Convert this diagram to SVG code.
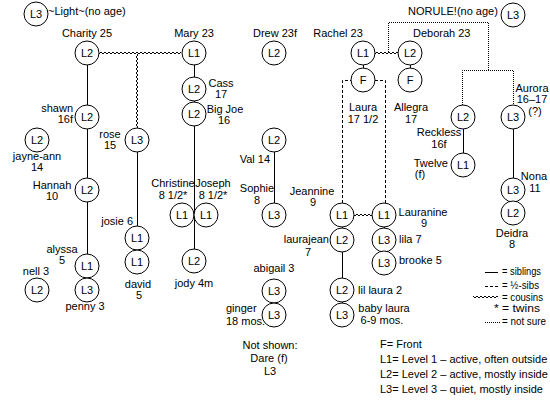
<svg xmlns="http://www.w3.org/2000/svg" width="550" height="400" viewBox="0 0 550 400">
<style>
text{font-family:"Liberation Sans",Arial,sans-serif;font-size:11px;fill:#000}
.m{text-anchor:middle}
.e{text-anchor:end}
.n circle{fill:#fff;stroke:#000;stroke-width:1}
.s{stroke:#000;stroke-width:1;fill:none}
.d{stroke:#000;stroke-width:1;fill:none;stroke-dasharray:3,2}
.o{stroke:#000;stroke-width:1;fill:none;stroke-dasharray:1,1}
</style>
<defs>
<pattern id="wh" x="0" y="0" width="4" height="2" patternUnits="userSpaceOnUse"><rect width="2" height="1" fill="#000"/><rect x="2" y="1" width="2" height="1" fill="#000"/></pattern>
<pattern id="wv" x="0" y="0" width="2" height="4" patternUnits="userSpaceOnUse"><rect width="1" height="2" fill="#000"/><rect x="1" y="2" width="1" height="2" fill="#000"/></pattern>
</defs>
<rect width="550" height="400" fill="#fff"/>
<g id="connectors">
<line class="s" x1="87.5" y1="53" x2="87.5" y2="290"/>
<line class="s" x1="137.5" y1="140" x2="137.5" y2="262"/>
<line class="s" x1="194.5" y1="53" x2="194.5" y2="261"/>
<line class="s" x1="274.5" y1="140" x2="274.5" y2="215"/>
<line class="s" x1="274.5" y1="291" x2="274.5" y2="315"/>
<line class="s" x1="363.5" y1="53" x2="363.5" y2="80"/>
<line class="s" x1="410.5" y1="53" x2="410.5" y2="80"/>
<line class="s" x1="342.5" y1="215" x2="342.5" y2="315"/>
<line class="s" x1="384.5" y1="215" x2="384.5" y2="263"/>
<line class="s" x1="463.5" y1="117" x2="463.5" y2="165"/>
<line class="s" x1="513.5" y1="117" x2="513.5" y2="213"/>
<rect x="99" y="52" width="82" height="2" fill="url(#wh)"/>
<rect x="136" y="54" width="2" height="74" fill="url(#wv)"/>
<rect x="375" y="52" width="24" height="2" fill="url(#wh)"/>
<rect x="354" y="214" width="18" height="2" fill="url(#wh)"/>
<path class="d" d="M342.5,203 V80.5 H385.5 V203"/>
<path class="o" d="M388.5,52 V22.5 H488.5 V70.5"/>
<path class="o" d="M462.5,105 V70.5 H513.5 V105"/>
</g>
<g id="light" class="n"><circle cx="36" cy="14" r="12"/><text class="m" x="36" y="18">L3</text><text x="48" y="15">~Light~(no age)</text></g>
<g id="charity" class="n"><circle cx="87" cy="53" r="12"/><text class="m" x="87" y="57">L2</text><text class="m" x="87" y="37">Charity 25</text></g>
<g id="shawn" class="n"><circle cx="87" cy="117" r="12"/><text class="m" x="87" y="121">L2</text><text class="e" x="73" y="112">shawn</text><text class="e" x="73" y="123">16f</text></g>
<g id="jayne-ann" class="n"><circle cx="37" cy="140" r="12"/><text class="m" x="37" y="144">L2</text><text class="m" x="37" y="160">jayne-ann</text><text class="m" x="37" y="171">14</text></g>
<g id="hannah" class="n"><circle cx="87" cy="190" r="12"/><text class="m" x="87" y="194">L2</text><text class="m" x="52" y="189">Hannah</text><text class="m" x="52" y="200">10</text></g>
<g id="alyssa" class="n"><circle cx="87" cy="266" r="12"/><text class="m" x="87" y="270">L1</text><text class="m" x="62" y="253">alyssa</text><text class="m" x="62" y="264">5</text></g>
<g id="penny" class="n"><circle cx="87" cy="290" r="12"/><text class="m" x="87" y="294">L3</text><text class="m" x="85" y="310">penny 3</text></g>
<g id="nell" class="n"><circle cx="37" cy="290" r="12"/><text class="m" x="37" y="294">L2</text><text class="m" x="36" y="275">nell 3</text></g>
<g id="rose" class="n"><circle cx="137" cy="140" r="12"/><text class="m" x="137" y="144">L3</text><text class="m" x="110" y="138">rose</text><text class="m" x="110" y="149">15</text></g>
<g id="josie" class="n"><circle cx="137" cy="238" r="12"/><text class="m" x="137" y="242">L1</text><text class="e" x="133" y="225">josie 6</text></g>
<g id="david" class="n"><circle cx="137" cy="262" r="12"/><text class="m" x="137" y="266">L1</text><text class="m" x="138" y="288">david</text><text class="m" x="139" y="299">5</text></g>
<g id="mary" class="n"><circle cx="194" cy="53" r="12"/><text class="m" x="194" y="57">L1</text><text class="m" x="194" y="37">Mary 23</text></g>
<g id="cass" class="n"><circle cx="194" cy="89" r="12"/><text class="m" x="194" y="93">L2</text><text class="m" x="221" y="87">Cass</text><text class="m" x="221" y="98">17</text></g>
<g id="bigjoe" class="n"><circle cx="194" cy="114" r="12"/><text class="m" x="194" y="118">L2</text><text class="m" x="225" y="113">Big Joe</text><text class="m" x="224" y="124">16</text></g>
<g id="christine" class="n"><circle cx="182" cy="215" r="12"/><text class="m" x="182" y="219">L1</text><text class="m" x="173" y="187">Christine</text><text class="m" x="173" y="199">8 1/2*</text></g>
<g id="joseph" class="n"><circle cx="206" cy="215" r="12"/><text class="m" x="206" y="219">L1</text><text class="m" x="213" y="187">Joseph</text><text class="m" x="213" y="199">8 1/2*</text></g>
<g id="jody" class="n"><circle cx="194" cy="261" r="12"/><text class="m" x="194" y="265">L2</text><text class="m" x="194" y="287">jody 4m</text></g>
<g id="drew" class="n"><circle cx="274" cy="53" r="12"/><text class="m" x="274" y="57">L2</text><text class="m" x="275" y="37">Drew 23f</text></g>
<g id="val" class="n"><circle cx="274" cy="140" r="12"/><text class="m" x="274" y="144">L2</text><text class="e" x="270" y="163">Val 14</text></g>
<g id="sophie" class="n"><circle cx="274" cy="215" r="12"/><text class="m" x="274" y="219">L3</text><text class="m" x="257" y="192">Sophie</text><text class="m" x="257" y="204">8</text></g>
<g id="abigail" class="n"><circle cx="274" cy="291" r="12"/><text class="m" x="274" y="295">L3</text><text class="m" x="274" y="272">abigail 3</text></g>
<g id="ginger" class="n"><circle cx="274" cy="315" r="12"/><text class="m" x="274" y="319">L3</text><text x="226" y="312">ginger</text><text x="226" y="325">18 mos.</text></g>
<g id="notshown"><text class="m" x="270" y="349">Not shown:</text><text class="m" x="269" y="362">Dare (f)</text><text class="m" x="270" y="375">L3</text></g>
<g id="rachel" class="n"><circle cx="363" cy="53" r="12"/><text class="m" x="363" y="57">L1</text><text class="m" x="338" y="37">Rachel 23</text></g>
<g id="laura" class="n"><circle cx="363" cy="80" r="12"/><text class="m" x="363" y="84">F</text><text class="m" x="363" y="111">Laura</text><text class="m" x="363" y="123">17 1/2</text></g>
<g id="deborah" class="n"><circle cx="410" cy="53" r="12"/><text class="m" x="410" y="57">L2</text><text x="413" y="37">Deborah 23</text></g>
<g id="allegra" class="n"><circle cx="410" cy="80" r="12"/><text class="m" x="410" y="84">F</text><text class="m" x="411" y="111">Allegra</text><text class="m" x="411" y="123">17</text></g>
<g id="jeannine" class="n"><circle cx="342" cy="215" r="12"/><text class="m" x="342" y="219">L1</text><text class="m" x="312" y="195">Jeannine</text><text class="m" x="313" y="206">9</text></g>
<g id="lauranine" class="n"><circle cx="384" cy="215" r="12"/><text class="m" x="384" y="219">L1</text><text class="m" x="423" y="216">Lauranine</text><text class="m" x="424" y="227">9</text></g>
<g id="laurajean" class="n"><circle cx="342" cy="240" r="12"/><text class="m" x="342" y="244">L2</text><text class="e" x="329" y="243">laurajean</text><text class="m" x="308" y="256">7</text></g>
<g id="lila" class="n"><circle cx="384" cy="240" r="12"/><text class="m" x="384" y="244">L3</text><text x="399" y="243">lila 7</text></g>
<g id="brooke" class="n"><circle cx="384" cy="263" r="12"/><text class="m" x="384" y="267">L3</text><text x="399" y="264">brooke 5</text></g>
<g id="lillaura" class="n"><circle cx="342" cy="290" r="12"/><text class="m" x="342" y="294">L2</text><text x="358" y="294">lil laura 2</text></g>
<g id="babylaura" class="n"><circle cx="342" cy="315" r="12"/><text class="m" x="342" y="319">L3</text><text class="m" x="384" y="312">baby laura</text><text class="m" x="382" y="324">6-9 mos.</text></g>
<g id="norule" class="n"><circle cx="513" cy="15" r="12"/><text class="m" x="513" y="19">L3</text><text x="408" y="15">NORULE!(no age)</text></g>
<g id="reckless" class="n"><circle cx="463" cy="117" r="12"/><text class="m" x="463" y="121">L2</text><text class="m" x="439" y="136">Reckless</text><text class="m" x="439" y="148">16f</text></g>
<g id="twelve" class="n"><circle cx="463" cy="165" r="12"/><text class="m" x="463" y="169">L1</text><text class="e" x="448" y="167">Twelve</text><text class="m" x="420" y="178">(f)</text></g>
<g id="aurora" class="n"><circle cx="513" cy="117" r="12"/><text class="m" x="513" y="121">L3</text><text class="m" x="532" y="92">Aurora</text><text class="m" x="532" y="103">16–17</text><text class="m" x="535" y="115">(?)</text></g>
<g id="nona" class="n"><circle cx="513" cy="190" r="12"/><text class="m" x="513" y="194">L3</text><text class="m" x="534" y="180">Nona</text><text class="m" x="535" y="192">11</text></g>
<g id="deidra" class="n"><circle cx="513" cy="213" r="12"/><text class="m" x="513" y="217">L2</text><text class="m" x="512" y="237">Deidra</text><text class="m" x="512" y="248">8</text></g>
<g id="legend">
<line class="s" x1="485" y1="272.5" x2="498" y2="272.5"/><text x="502" y="275" textLength="39" lengthAdjust="spacingAndGlyphs">= siblings</text>
<line class="d" x1="485" y1="286.5" x2="498" y2="286.5"/><text x="502" y="289" textLength="37" lengthAdjust="spacingAndGlyphs">= ½-sibs</text>
<rect x="473" y="296" width="25" height="2" fill="url(#wh)"/><text x="502" y="301" textLength="41" lengthAdjust="spacingAndGlyphs">= cousins</text>
<text x="494" y="312" textLength="46" lengthAdjust="spacingAndGlyphs">* = twins</text>
<line class="o" x1="485" y1="322.5" x2="500" y2="322.5"/><text x="502" y="325" textLength="44" lengthAdjust="spacingAndGlyphs">= not sure</text>
<text x="380" y="348">F= Front</text>
<text x="380" y="363">L1= Level 1 – active, often outside</text>
<text x="380" y="378">L2= Level 2 – active, mostly inside</text>
<text x="380" y="393">L3= Level 3 – quiet, mostly inside</text>
</g>
</svg>
